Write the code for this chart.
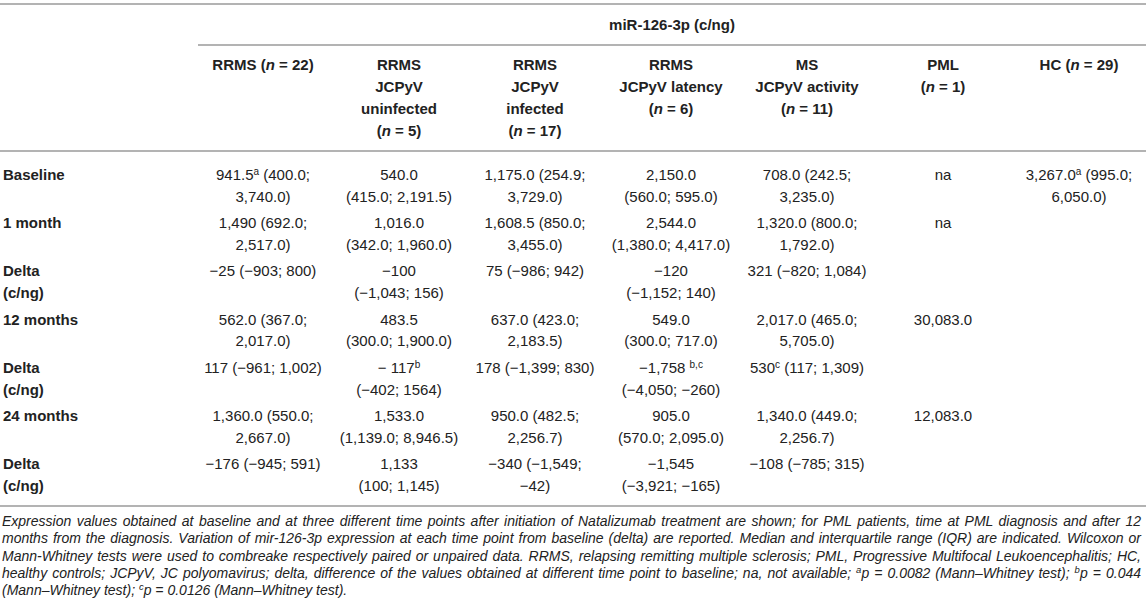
<!DOCTYPE html>
<html>
<head>
<meta charset="utf-8">
<script src="https://cdn.jsdelivr.net/npm/d3@7"></script>
<style>
  body { margin: 0; background: #fff; }
  svg { display: block; font-family: "Liberation Sans", Arial, Helvetica, sans-serif; }
</style>
</head>
<body>
<div id="svg-container"></div>
<script>
////////////////////////////////////////////////////////////////////
////////////////////////////  Data  ////////////////////////////////
// *x* = italic, ^x^ = superscript, \n = line break inside a cell
const groupTitle = "miR-126-3p (c/ng)";

const colHeaders = [
  ["RRMS (*n* = 22)"],
  ["RRMS", "JCPyV", "uninfected", "(*n* = 5)"],
  ["RRMS", "JCPyV", "infected", "(*n* = 17)"],
  ["RRMS", "JCPyV latency", "(*n* = 6)"],
  ["MS", "JCPyV activity", "(*n* = 11)"],
  ["PML", "(*n* = 1)"],
  ["HC (*n* = 29)"],
];

const rowLabels = [
  ["Baseline"],
  ["1 month"],
  ["Delta", "(c/ng)"],
  ["12 months"],
  ["Delta", "(c/ng)"],
  ["24 months"],
  ["Delta", "(c/ng)"],
];

const baseline = ["941.5^a^ (400.0;\n3,740.0)", "540.0\n(415.0; 2,191.5)", "1,175.0 (254.9;\n3,729.0)", "2,150.0\n(560.0; 595.0)", "708.0 (242.5;\n3,235.0)", "na", "3,267.0^a^ (995.0;\n6,050.0)"];
const month1 = ["1,490 (692.0;\n2,517.0)", "1,016.0\n(342.0; 1,960.0)", "1,608.5 (850.0;\n3,455.0)", "2,544.0\n(1,380.0; 4,417.0)", "1,320.0 (800.0;\n1,792.0)", "na", ""];
const delta1 = ["−25 (−903; 800)", "−100\n(−1,043; 156)", "75 (−986; 942)", "−120\n(−1,152; 140)", "321 (−820; 1,084)", "", ""];
const month12 = ["562.0 (367.0;\n2,017.0)", "483.5\n(300.0; 1,900.0)", "637.0 (423.0;\n2,183.5)", "549.0\n(300.0; 717.0)", "2,017.0 (465.0;\n5,705.0)", "30,083.0", ""];
const delta12 = ["117 (−961; 1,002)", "− 117^b^\n(−402; 1564)", "178 (−1,399; 830)", "−1,758 ^b,c^\n(−4,050; −260)", "530^c^ (117; 1,309)", "", ""];
const month24 = ["1,360.0 (550.0;\n2,667.0)", "1,533.0\n(1,139.0; 8,946.5)", "950.0 (482.5;\n2,256.7)", "905.0\n(570.0; 2,095.0)", "1,340.0 (449.0;\n2,256.7)", "12,083.0", ""];
const delta24 = ["−176 (−945; 591)", "1,133\n(100; 1,145)", "−340 (−1,549;\n−42)", "−1,545\n(−3,921; −165)", "−108 (−785; 315)", "", ""];

const footnoteLines = [
  "Expression values obtained at baseline and at three different time points after initiation of Natalizumab treatment are shown; for PML patients, time at PML diagnosis and after 12",
  "months from the diagnosis. Variation of mir-126-3p expression at each time point from baseline (delta) are reported. Median and interquartile range (IQR) are indicated. Wilcoxon or",
  "Mann-Whitney tests were used to combreake respectively paired or unpaired data. RRMS, relapsing remitting multiple sclerosis; PML, Progressive Multifocal Leukoencephalitis; HC,",
  "healthy controls; JCPyV, JC polyomavirus; delta, difference of the values obtained at different time point to baseline; na, not available; ^a^p = 0.0082 (Mann–Whitney test); ^b^p = 0.044",
  "(Mann–Whitney test); ^c^p = 0.0126 (Mann–Whitney test).",
];

const rows = [baseline, month1, delta1, month12, delta12, month24, delta24];

////////////////////////////////////////////////////////////////////
////////////////////////////  Init  ////////////////////////////////
const width = 1146;
const height = 615;

const fontSize = 15;
const lineH = 21.8;
const capShift = 5.4; // centre of a line -> baseline
const textColor = "#222";
const ruleColor = "#b3b3b3";

const svg = d3
  .select("#svg-container")
  .append("svg")
  .attr("width", width)
  .attr("height", height);

// scales
const xScale = d3
  .scalePoint()
  .domain(d3.range(colHeaders.length))
  .range([263, 1079]);

const yScale = d3
  .scalePoint()
  .domain(d3.range(rowLabels.length))
  .range([174.5, 464]);

const headerTop = 65;

// writes a string with *italic* and ^sup^ markup into a text element
function richText(sel, str, supSize) {
  const parts = str.split(/(\*[^*]+\*|\^[^^]+\^)/).filter((s) => s.length);
  let raised = false;
  parts.forEach((p) => {
    const t = sel.append("tspan");
    if (p[0] === "^") {
      t.attr("font-size", supSize).attr("dy", -5).text(p.slice(1, -1));
      raised = true;
      return;
    }
    if (raised) {
      t.attr("dy", 5);
      raised = false;
    }
    if (p[0] === "*") t.attr("font-style", "italic").text(p.slice(1, -1));
    else t.text(p);
  });
}

////////////////////////////////////////////////////////////////////
////////////////////////////  Rules  ///////////////////////////////
const rules = [
  { x1: 0, x2: width, y: 4 },
  { x1: 198, x2: width, y: 45 },
  { x1: 0, x2: width, y: 151 },
  { x1: 0, x2: width, y: 506 },
];

svg
  .selectAll(".rule")
  .data(rules)
  .enter()
  .append("line")
  .attr("class", "rule")
  .attr("x1", (d) => d.x1)
  .attr("x2", (d) => d.x2)
  .attr("y1", (d) => d.y)
  .attr("y2", (d) => d.y)
  .attr("stroke", ruleColor)
  .attr("stroke-width", 2);

////////////////////////////////////////////////////////////////////
////////////////////////////  Header  //////////////////////////////
svg
  .append("text")
  .attr("x", (198 + width) / 2)
  .attr("y", 25 + capShift)
  .attr("text-anchor", "middle")
  .attr("font-size", fontSize)
  .attr("font-weight", "bold")
  .attr("fill", textColor)
  .text(groupTitle);

colHeaders.forEach((lines, c) => {
  lines.forEach((line, i) => {
    const t = svg
      .append("text")
      .attr("class", "col-header")
      .attr("x", xScale(c))
      .attr("y", headerTop + i * lineH + capShift)
      .attr("text-anchor", "middle")
      .attr("font-size", fontSize)
      .attr("font-weight", "bold")
      .attr("fill", textColor);
    richText(t, line, 10);
  });
});

////////////////////////////////////////////////////////////////////
////////////////////////////  Body  ////////////////////////////////
rowLabels.forEach((lines, r) => {
  lines.forEach((line, i) => {
    svg
      .append("text")
      .attr("class", "row-label")
      .attr("x", 3)
      .attr("y", yScale(r) + i * lineH + capShift)
      .attr("font-size", fontSize)
      .attr("font-weight", "bold")
      .attr("fill", textColor)
      .text(line);
  });
});

rows.forEach((cells, r) => {
  cells.forEach((cell, c) => {
    if (!cell) return;
    cell.split("\n").forEach((line, i) => {
      const t = svg
        .append("text")
        .attr("class", "cell")
        .attr("x", xScale(c))
        .attr("y", yScale(r) + i * lineH + capShift)
        .attr("text-anchor", "middle")
        .attr("font-size", fontSize)
        .attr("fill", textColor);
      richText(t, line, 10);
    });
  });
});

////////////////////////////////////////////////////////////////////
////////////////////////////  Footnote  ////////////////////////////
const noteTop = 521;
const noteLineH = 17.3;
const noteRight = 1141;

footnoteLines.forEach((line, i) => {
  const t = svg
    .append("text")
    .attr("class", "footnote")
    .attr("x", 2)
    .attr("y", noteTop + i * noteLineH + 5)
    .attr("font-size", 14)
    .attr("font-style", "italic")
    .attr("fill", textColor);
  richText(t, line, 9.5);

  // justify every line but the last one
  if (i < footnoteLines.length - 1) {
    const natural = t.node().getComputedTextLength();
    const spaces = (line.match(/ /g) || []).length;
    t.attr("word-spacing", (noteRight - 2 - natural) / spaces);
  }
});
</script>
</body>
</html>
